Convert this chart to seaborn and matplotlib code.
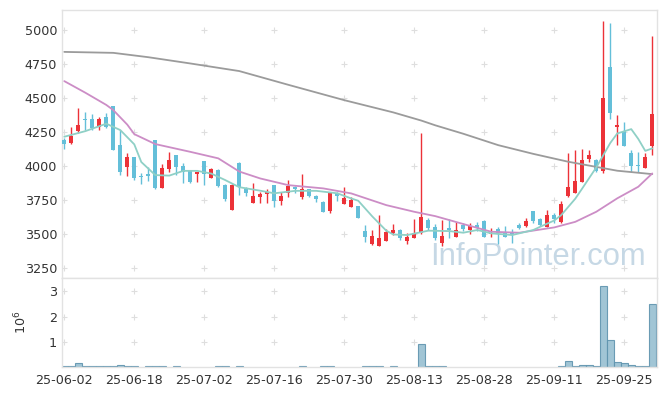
import matplotlib
matplotlib.use("Agg")
import matplotlib.pyplot as plt
import numpy as np
import pandas as pd
import seaborn as sns

# trading days 2025-06-02 .. 2025-10-01
dates = ["25-06-02", "25-06-04", "25-06-05", "25-06-09", "25-06-10", "25-06-11", "25-06-12", "25-06-13",
         "25-06-16", "25-06-17", "25-06-18", "25-06-19", "25-06-20", "25-06-23", "25-06-24", "25-06-25",
         "25-06-26", "25-06-27", "25-06-30", "25-07-01", "25-07-02", "25-07-03", "25-07-04", "25-07-07",
         "25-07-08", "25-07-09", "25-07-10", "25-07-11", "25-07-14", "25-07-15", "25-07-16", "25-07-17",
         "25-07-18", "25-07-21", "25-07-22", "25-07-23", "25-07-24", "25-07-25", "25-07-28", "25-07-29",
         "25-07-30", "25-07-31", "25-08-01", "25-08-04", "25-08-05", "25-08-06", "25-08-07", "25-08-08",
         "25-08-11", "25-08-12", "25-08-13", "25-08-14", "25-08-18", "25-08-19", "25-08-20", "25-08-21",
         "25-08-22", "25-08-25", "25-08-26", "25-08-27", "25-08-28", "25-08-29", "25-09-01", "25-09-02",
         "25-09-03", "25-09-04", "25-09-05", "25-09-08", "25-09-09", "25-09-10", "25-09-11", "25-09-12",
         "25-09-15", "25-09-16", "25-09-17", "25-09-18", "25-09-19", "25-09-22", "25-09-23", "25-09-24",
         "25-09-25", "25-09-26", "25-09-29", "25-09-30", "25-10-01"]

open_ = [4195, 4170, 4260, 4350, 4350, 4285, 4360, 4440, 4155, 3995,
         4065, 3925, 3935, 4190, 3840, 3980, 4080, 4000, 3965, 3942,
         4035, 3915, 3970, 3860, 3676, 4025, 3835, 3727, 3776, 3792,
         3860, 3745, 3805, 3845, 3770, 3830, 3778, 3738, 3672, 3800,
         3720, 3700, 3705, 3522, 3426, 3412, 3452, 3510, 3530, 3448,
         3473, 3505, 3603, 3555, 3431, 3548, 3480, 3565, 3530, 3570,
         3596, 3498, 3535, 3510, 3510, 3566, 3560, 3670, 3612, 3555,
         3640, 3590, 3780, 3805, 3885, 4050, 4045, 3966, 4730, 4290,
         4257, 4093, 4010, 3985, 4150]
high = [4210, 4290, 4430, 4400, 4385, 4360, 4390, 4440, 4265, 4095,
        4070, 3950, 3990, 4190, 4015, 4105, 4085, 4020, 3970, 3960,
        4040, 3985, 3975, 3865, 3865, 4030, 3845, 3873, 3810, 3835,
        3862, 3810, 3897, 3850, 3940, 3835, 3785, 3740, 3810, 3810,
        3843, 3770, 3710, 3565, 3530, 3640, 3535, 3575, 3535, 3505,
        3608, 4240, 3620, 3575, 3603, 3608, 3590, 3580, 3585, 3590,
        3600, 3545, 3555, 3560, 3540, 3580, 3620, 3672, 3615, 3680,
        3655, 3740, 4100, 4118, 4125, 4118, 4050, 5070, 5050, 4375,
        4325, 4118, 4105, 4100, 4955]
low = [4125, 4165, 4245, 4265, 4265, 4265, 4280, 4118, 3935, 3930,
       3900, 3870, 3890, 3835, 3840, 3960, 3935, 3875, 3878, 3885,
       3860, 3912, 3845, 3745, 3676, 3790, 3780, 3725, 3730, 3730,
       3700, 3713, 3775, 3800, 3755, 3775, 3738, 3662, 3655, 3740,
       3718, 3700, 3615, 3445, 3420, 3410, 3450, 3493, 3455, 3430,
       3470, 3500, 3530, 3460, 3412, 3468, 3475, 3525, 3500, 3520,
       3478, 3480, 3430, 3475, 3435, 3535, 3555, 3585, 3560, 3550,
       3585, 3580, 3775, 3800, 3880, 4030, 3960, 3946, 4343, 4155,
       4145, 3958, 3958, 3983, 4080]
close = [4165, 4220, 4300, 4340, 4280, 4345, 4290, 4120, 3960, 4065,
         3915, 3920, 3930, 3840, 3985, 4045, 3995, 3955, 3880, 3958,
         3945, 3975, 3855, 3757, 3860, 3845, 3800, 3780, 3795, 3810,
         3740, 3782, 3850, 3830, 3830, 3782, 3756, 3665, 3799, 3782,
         3765, 3750, 3620, 3480, 3485, 3468, 3517, 3528, 3468, 3480,
         3505, 3623, 3542, 3473, 3485, 3530, 3529, 3537, 3558, 3542,
         3480, 3507, 3505, 3480, 3490, 3542, 3596, 3593, 3570, 3640,
         3608, 3720, 3845, 3890, 4045, 4080, 3966, 4500, 4392, 4300,
         4147, 4002, 4002, 4068, 4380]

# volume in millions of shares
volume = [0.05, 0.05, 0.16, 0.05, 0.05, 0.05, 0.05, 0.05, 0.09, 0.05,
          0.05, 0, 0.05, 0.05, 0.05, 0, 0.05, 0, 0, 0,
          0, 0, 0.05, 0.05, 0, 0.05, 0, 0, 0, 0,
          0, 0, 0, 0, 0.05, 0, 0, 0.05, 0.05, 0,
          0, 0, 0, 0.05, 0.05, 0.05, 0, 0.05, 0, 0,
          0, 0.92, 0.05, 0.05, 0.05, 0, 0, 0, 0, 0,
          0, 0, 0, 0, 0, 0, 0, 0, 0, 0,
          0, 0.05, 0.26, 0.05, 0.09, 0.09, 0.05, 3.22, 1.07, 0.2,
          0.16, 0.09, 0.05, 0.05, 2.5]

# moving averages (day index, value)
ma5_days = [0, 3, 6, 8, 10, 11, 13, 15, 17, 19, 21, 23, 25, 28, 30, 33, 36, 39, 41, 42,
            44, 46, 47, 49, 52, 55, 57, 59, 61, 64, 67, 68, 70, 71, 73, 74, 76, 78, 79, 81,
            82, 83, 84]
ma5 = [4216, 4257, 4312, 4265, 4160, 4030, 3934, 3930, 3965, 3965, 3945, 3897, 3845, 3819, 3800,
       3818, 3818, 3800, 3762, 3745, 3630, 3525, 3497, 3493, 3525, 3522, 3510, 3530, 3505, 3493,
       3530, 3554, 3600, 3640, 3760, 3836, 3990, 4170, 4240, 4272, 4200, 4112, 4130]

ma20_days = [0, 3, 6, 7, 9, 10, 13, 18, 22, 25, 28, 32, 37, 41, 46, 50, 53, 57, 61, 65,
             70, 73, 76, 79, 82, 84]
ma20 = [4625, 4540, 4450, 4412, 4305, 4235, 4162, 4105, 4057, 3960, 3909, 3860, 3836, 3799,
        3713, 3664, 3632, 3574, 3517, 3510, 3549, 3590, 3664, 3763, 3848, 3946]

ma_long_days = [0, 7, 12, 18, 25, 32, 40, 47, 51, 53, 57, 62, 67, 72, 79, 84]
ma_long = [4840, 4833, 4801, 4755, 4699, 4598, 4485, 4395, 4335, 4300, 4238, 4154, 4090, 4032,
           3966, 3941]

sns.set_style("white")
plt.rcParams['font.family'] = ['DejaVu Sans']

UP = '#ec3238'
DOWN = '#64bfd9'
SPINE = '#e2e2e2'
TXT = '#333333'

df = pd.DataFrame({'day': np.arange(len(dates)), 'date': dates, 'open': open_,
                   'high': high, 'low': low, 'close': close, 'volume': volume})
df['color'] = np.where(df['close'] >= df['open'], UP, DOWN)

fig = plt.figure(figsize=(6.65, 3.96), dpi=100)
ax = fig.add_axes([0.0932, 0.2980, 0.8947, 0.6760])
axv = fig.add_axes([0.0932, 0.0725, 0.8947, 0.2255])

# candles
ax.vlines(df['day'], df['low'], df['high'], colors=df['color'], lw=1.0, zorder=2)
body = np.maximum((df['close'] - df['open']).abs(), 9)
ax.bar(df['day'], body, bottom=np.minimum(df['open'], df['close']), width=0.62,
       color=df['color'], linewidth=0, zorder=3)

# moving averages
sns.lineplot(x=ma_long_days, y=ma_long, ax=ax, color='#9b9b9b', lw=1.3, estimator=None, zorder=4)
sns.lineplot(x=ma20_days, y=ma20, ax=ax, color='#cc8dc6', lw=1.3, estimator=None, zorder=4)
sns.lineplot(x=ma5_days, y=ma5, ax=ax, color='#8fd0c6', lw=1.3, estimator=None, zorder=4)

ax.text(0.618, 0.048, 'InfoPointer.com', transform=ax.transAxes, ha='left', va='baseline',
        fontsize=22.3, family='Liberation Sans', color='#c6d8e5', zorder=1)

# volume
vol = df[df['volume'] > 0]
sns.barplot(data=vol, x='day', y='volume', ax=axv, native_scale=True, width=1, errorbar=None,
            color='#97bfd1', saturation=1, edgecolor='#5f94ae', linewidth=0.8, alpha=0.9)

xticks = df['day'][::10]
price_ticks = np.arange(3250, 5001, 250)
vol_ticks = [1, 2, 3]

for a in (ax, axv):
    a.set_xlim(-0.33, 84.67)
    a.set_xticks(xticks)
    for s in a.spines.values():
        s.set_visible(True)
        s.set_color(SPINE)
        s.set_linewidth(1)
    a.tick_params(length=0, labelsize=9.2, colors=TXT, pad=3.5)
    a.set_xlabel('')
    a.set_ylabel('')

ax.set_ylim(3177, 5146)
ax.set_yticks(price_ticks)
ax.set_xticklabels([])

axv.set_ylim(0, 3.52)
axv.set_yticks(vol_ticks)
axv.set_yticklabels([str(t) for t in vol_ticks])
axv.set_xticklabels(df['date'][::10])
axv.tick_params(axis='x', pad=5)
axv.set_ylabel(r'$10^6$', fontsize=9.2, color=TXT)
axv.yaxis.set_label_coords(-0.055, 0.5)

# little "+" marks where the grid would cross
gx, gy = np.meshgrid(xticks, price_ticks)
ax.plot(gx.ravel(), gy.ravel(), ls='', marker='+', ms=5, mew=0.8, color='#dedede', zorder=0)
gx, gy = np.meshgrid(xticks, vol_ticks)
axv.plot(gx.ravel(), gy.ravel(), ls='', marker='+', ms=5, mew=0.8, color='#dedede', zorder=0)

fig.savefig('out.png', dpi=100)
